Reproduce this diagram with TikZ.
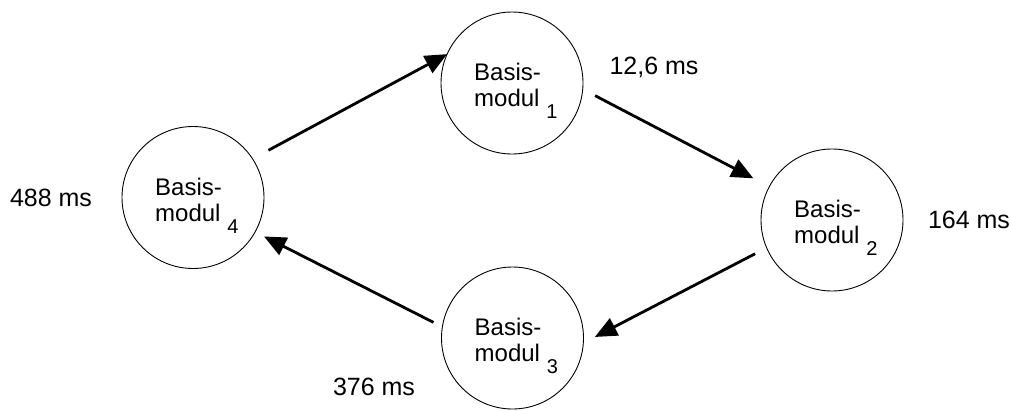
\documentclass[tikz,border=0pt]{standalone}
\usepackage{fontspec}
\setmainfont{Liberation Sans}
\usetikzlibrary{arrows.meta,calc}
\tikzset{
  modcircle/.style={draw, circle, line width=0.9pt, minimum size=142pt, inner sep=0pt, outer sep=0pt},
  modtext/.style={align=left, inner sep=0pt, anchor=west, font=\fontsize{24}{26}\selectfont},
  subtext/.style={inner sep=0pt, font=\fontsize{20}{22}\selectfont},
  timelabel/.style={inner sep=0pt, font=\fontsize{25}{28}\selectfont},
  arr/.style={line width=2.8pt, -{Triangle[length=22pt,width=19pt]}}
}
\begin{document}
\begin{tikzpicture}[x=1pt,y=-1pt]
\useasboundingbox (0,0) rectangle (1011,410);
% circles
\node[modcircle] (c1) at (512,83) {};
\node[modcircle] (c2) at (832,220) {};
\node[modcircle] (c3) at (512.5,338) {};
\node[modcircle] (c4) at (193,197.5) {};
% texts
\foreach \c/\n in {c1/1,c2/2,c3/3,c4/4}{
  \node[modtext] (t\n) at ($(\c.center)+(-38,2)$) {Basis-\\modul};
  \node[subtext] (s\n) at ($(\c.center)+(40,29)$) {\n};
}
% time labels
\node[timelabel] (l1) at (654,67) {12,6 ms};
\node[timelabel] (l2) at (969,220) {164 ms};
\node[timelabel] (l3) at (374,387) {376 ms};
\node[timelabel] (l4) at (51,198) {488 ms};
% arrows
\draw[arr, shorten <=18pt] (c4.33.4) -- (c1.156.7);
\draw[arr, shorten <=14pt, shorten >=18pt] (c1.-5) -- (c2.152.6);
\draw[arr, shorten <=13pt, shorten >=13pt] (c2.203.8) -- (c3.-4.1);
\draw[arr, shorten <=10pt, shorten >=10pt] (c3.171.4) -- (c4.-29.1);
\end{tikzpicture}
\end{document}
